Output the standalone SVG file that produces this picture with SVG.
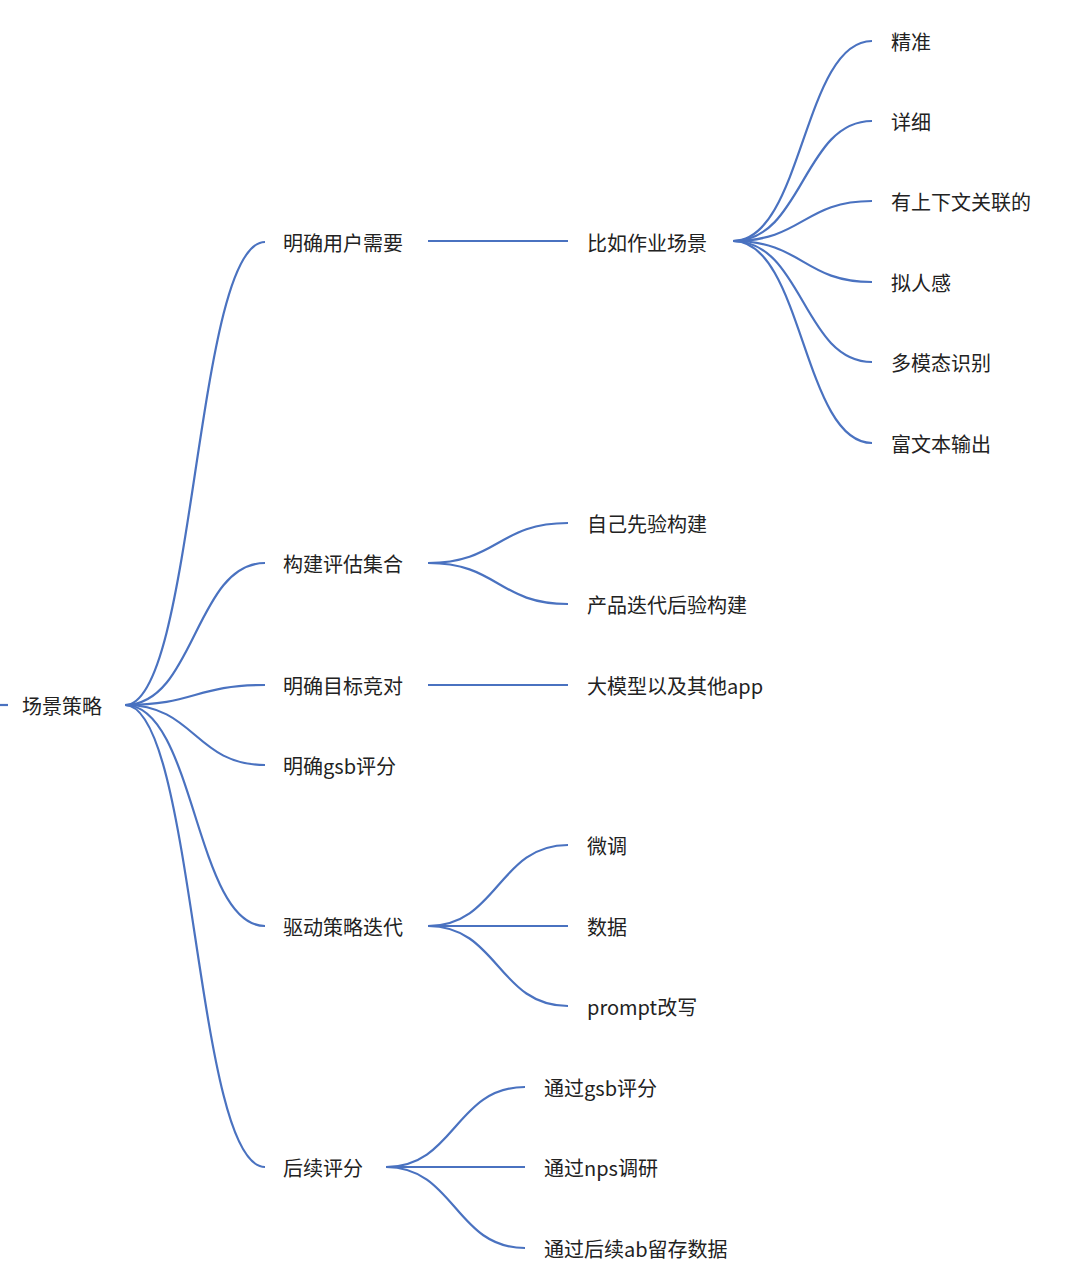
<svg xmlns="http://www.w3.org/2000/svg" width="1080" height="1264" viewBox="0 0 1080 1264">
<style>
.c{fill:none;stroke:#4a72c0;stroke-width:2.2}
text{font-family:"Noto Sans CJK SC","Noto Sans",sans-serif;font-size:20px;fill:#222;dominant-baseline:central}
</style>
<rect width="1080" height="1264" fill="#fff"/>
<g id="connectors">
<path class="c" d="M0 705H8"/>
<path class="c" d="M125 705C195 705 195 242 265 242"/>
<path class="c" d="M125 705C195 705 195 563 265 563"/>
<path class="c" d="M125 705C195 705 195 685 265 685"/>
<path class="c" d="M125 705C195 705 195 765 265 765"/>
<path class="c" d="M125 705C195 705 195 926 265 926"/>
<path class="c" d="M125 705C195 705 195 1167 265 1167"/>
<path class="c" d="M428 241H568"/>
<path class="c" d="M733 241C803 241 803 41 872 41"/>
<path class="c" d="M733 241C803 241 803 121 872 121"/>
<path class="c" d="M733 241C803 241 803 201 872 201"/>
<path class="c" d="M733 241C803 241 803 282 872 282"/>
<path class="c" d="M733 241C803 241 803 362 872 362"/>
<path class="c" d="M733 241C803 241 803 443 872 443"/>
<path class="c" d="M428 563C498 563 498 523 568 523"/>
<path class="c" d="M428 563C498 563 498 604 568 604"/>
<path class="c" d="M428 685H568"/>
<path class="c" d="M428 926C498 926 498 845 568 845"/>
<path class="c" d="M428 926H568"/>
<path class="c" d="M428 926C498 926 498 1006 568 1006"/>
<path class="c" d="M386 1167C455 1167 455 1087 525 1087"/>
<path class="c" d="M386 1167H525"/>
<path class="c" d="M386 1167C455 1167 455 1248 525 1248"/>
</g>
<g id="root"><text x="22" y="705">场景策略</text></g>
<g id="n1"><text x="283" y="242">明确用户需要</text></g>
<g id="n2"><text x="283" y="563">构建评估集合</text></g>
<g id="n3"><text x="283" y="685">明确目标竞对</text></g>
<g id="n4"><text x="283" y="765">明确gsb评分</text></g>
<g id="n5"><text x="283" y="926">驱动策略迭代</text></g>
<g id="n6"><text x="283" y="1167">后续评分</text></g>
<g id="n11"><text x="587" y="242">比如作业场景</text></g>
<g id="n111"><text x="891" y="41">精准</text></g>
<g id="n112"><text x="891" y="121">详细</text></g>
<g id="n113"><text x="891" y="201">有上下文关联的</text></g>
<g id="n114"><text x="891" y="282">拟人感</text></g>
<g id="n115"><text x="891" y="362">多模态识别</text></g>
<g id="n116"><text x="891" y="443">富文本输出</text></g>
<g id="n21"><text x="587" y="523">自己先验构建</text></g>
<g id="n22"><text x="587" y="604">产品迭代后验构建</text></g>
<g id="n31"><text x="587" y="685">大模型以及其他app</text></g>
<g id="n51"><text x="587" y="845">微调</text></g>
<g id="n52"><text x="587" y="926">数据</text></g>
<g id="n53"><text x="587" y="1006">prompt改写</text></g>
<g id="n61"><text x="544" y="1087">通过gsb评分</text></g>
<g id="n62"><text x="544" y="1167">通过nps调研</text></g>
<g id="n63"><text x="544" y="1248">通过后续ab留存数据</text></g>
</svg>
